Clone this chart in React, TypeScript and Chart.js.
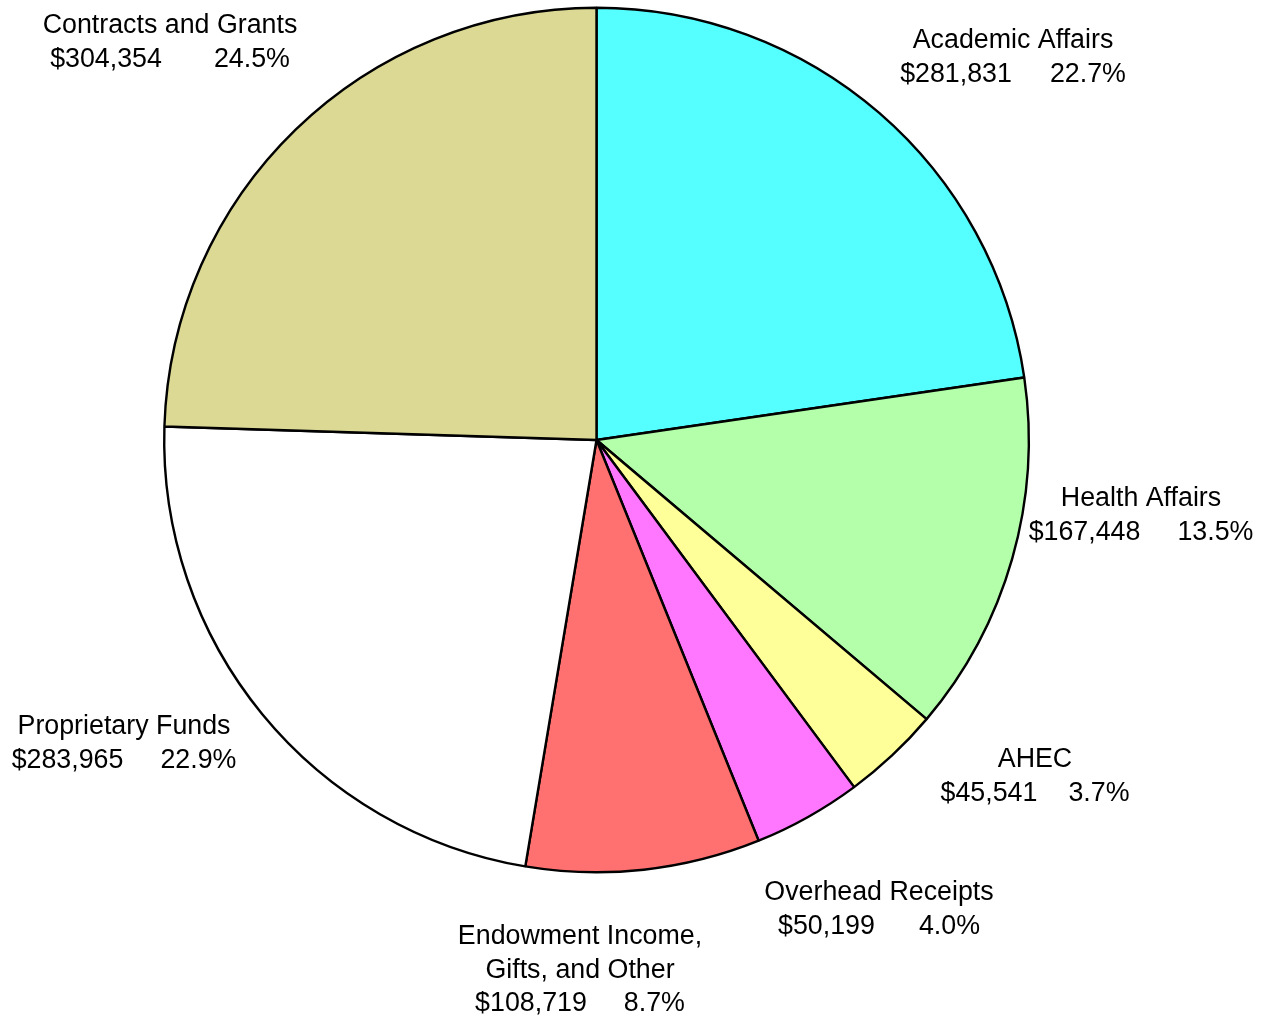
import React, { useEffect, useRef } from "react";
import { Chart, registerables } from "chart.js";

Chart.register(...registerables);

const categories = [
  "Academic Affairs",
  "Health Affairs",
  "AHEC",
  "Overhead Receipts",
  "Endowment Income,\nGifts, and Other",
  "Proprietary Funds",
  "Contracts and Grants",
];
const values = [281831, 167448, 45541, 50199, 108719, 283965, 304354];
const percentLabels = ["22.7%", "13.5%", "3.7%", "4.0%", "8.7%", "22.9%", "24.5%"];
const colors = ["#55FFFF", "#B3FFAA", "#FFFF99", "#FF77FF", "#FF7070", "#FFFFFF", "#DBD994"];

// label layout: center x, first line y, gap between value and percent
const labelLayout = [
  { x: 1013, y: 41, gap: 38 },
  { x: 1141, y: 499, gap: 37 },
  { x: 1035, y: 760, gap: 31 },
  { x: 879, y: 893, gap: 44 },
  { x: 580, y: 937, gap: 37 },
  { x: 124, y: 727, gap: 37 },
  { x: 170, y: 26, gap: 52 },
];

const FONT = '26.8px "Liberation Sans", Arial, sans-serif';
const LINE = 33.5;

const fmt = (v: number) => "$" + v.toLocaleString("en-US");

const labelPlugin = {
  id: "outerLabels",
  afterDraw(chart: any) {
    const ctx = chart.ctx;
    ctx.save();
    ctx.font = FONT;
    ctx.fillStyle = "#000";
    ctx.textBaseline = "middle";
    const labels = chart.data.labels as string[];
    const data = chart.data.datasets[0].data as number[];
    labels.forEach((lab, i) => {
      const lay = labelLayout[i];
      const lines = lab.split("\n");
      let y = lay.y;
      ctx.textAlign = "center";
      lines.forEach((ln) => {
        ctx.fillText(ln, lay.x, y);
        y += LINE;
      });
      const vs = fmt(data[i]);
      const ps = percentLabels[i];
      const wv = ctx.measureText(vs).width;
      const wp = ctx.measureText(ps).width;
      const total = wv + lay.gap + wp;
      const x0 = lay.x - total / 2;
      ctx.textAlign = "left";
      ctx.fillText(vs, x0, y);
      ctx.fillText(ps, x0 + wv + lay.gap, y);
    });
    ctx.restore();
  },
};

export default function App() {
  const ref = useRef<HTMLCanvasElement>(null);
  useEffect(() => {
    if (!ref.current) return;
    const chart = new Chart(ref.current, {
      type: "pie",
      data: {
        labels: categories,
        datasets: [
          {
            data: values,
            backgroundColor: colors,
            borderColor: "#000000",
            borderWidth: 2.4,
            borderAlign: "center",
          } as any,
        ],
      },
      options: {
        animation: false,
        responsive: false,
        maintainAspectRatio: false,
        layout: { padding: { left: 163, right: 242, top: 6, bottom: 144 } },
        plugins: {
          legend: { display: false },
          tooltip: { enabled: false },
        },
      },
      plugins: [labelPlugin],
    });
    return () => chart.destroy();
  }, []);
  return (
    <div style={{ position: "absolute", left: 0, top: 0, width: 1272, height: 1018, background: "#fff" }}>
      <canvas ref={ref} width={1272} height={1018} style={{ width: 1272, height: 1018, display: "block" }} />
    </div>
  );
}
